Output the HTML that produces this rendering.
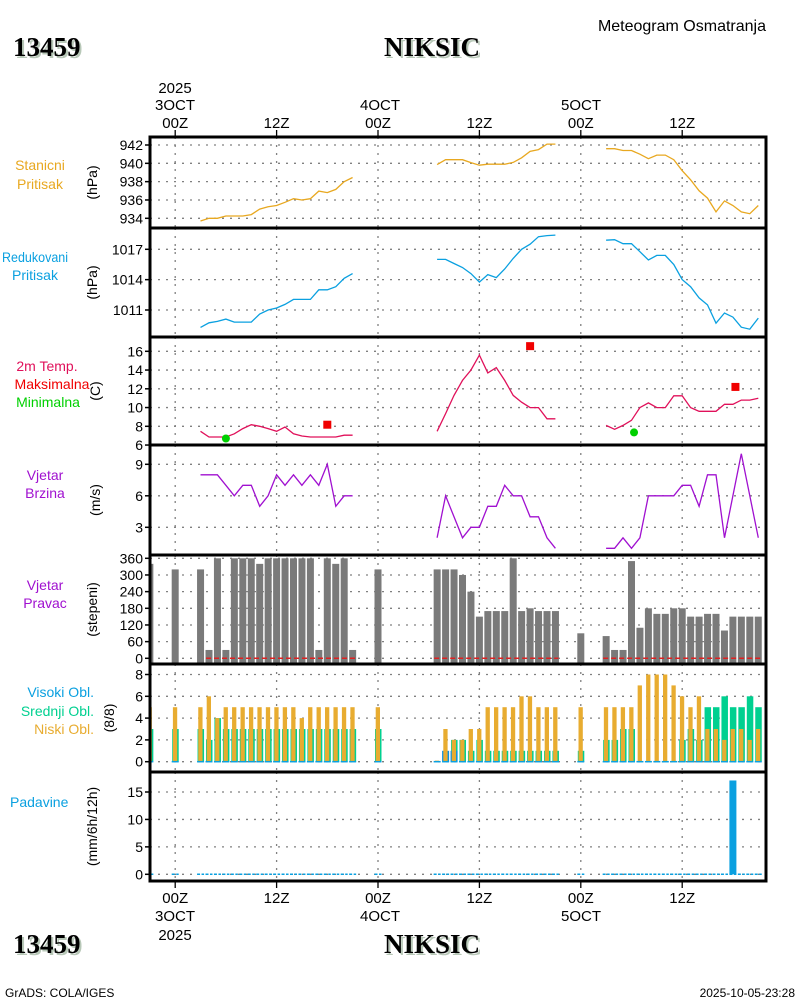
<!DOCTYPE html>
<html><head><meta charset="utf-8"><title>Meteogram NIKSIC</title>
<style>
html,body{margin:0;padding:0;background:#fff;}
svg{display:block;font-family:"Liberation Sans",sans-serif;}
</style></head>
<body>
<svg id="chart" width="800" height="1000" viewBox="0 0 800 1000" xmlns="http://www.w3.org/2000/svg">
<g id="static"></g>
<g id="marks"></g>
</svg>
<script>
// ---------- DATA ----------
const segA = [3,4,5,6,7,8,9,10,11,12,13,14,15,16,17,18,19,20,21];
const segB = [31,32,33,34,35,36,37,38,39,40,41,42,43,44,45];
const segC = [51,52,53,54,55,56,57,58,59,60,61,62,63,64,65,66,67,68,69];
const stationPressure = [
 [933.7,934.0,934.0,934.25,934.25,934.25,934.4,935.0,935.27,935.4,935.75,936.14,936.0,936.14,936.97,936.8,937.15,938.0,938.45],
 [939.86,940.4,940.4,940.4,940.08,939.8,939.9,939.9,939.9,940.1,940.6,941.3,941.5,942.1,942.1],
 [941.6,941.6,941.4,941.4,941.0,940.5,940.9,940.9,940.4,939.2,938.2,937.0,936.2,934.7,935.9,935.4,934.7,934.5,935.4]];
const reducedPressure = [
 [1009.28,1009.73,1009.87,1010.1,1009.8,1009.8,1009.8,1010.6,1011.0,1011.2,1011.55,1012.05,1012.05,1012.05,1013.0,1013.0,1013.3,1014.13,1014.6],
 [1016.0,1016.0,1015.6,1015.2,1014.6,1013.76,1014.5,1014.2,1015.05,1016.1,1017.0,1017.5,1018.25,1018.35,1018.4],
 [1017.9,1017.95,1017.55,1017.55,1016.76,1015.94,1016.4,1016.4,1015.5,1014.0,1013.3,1012.2,1011.5,1009.7,1010.7,1010.3,1009.3,1009.1,1010.2]];
const temperature = [
 [7.47,6.86,6.86,6.86,7.2,7.75,8.17,8.0,7.75,7.47,7.93,7.2,6.97,6.86,6.86,6.86,6.86,7.05,7.05],
 [7.47,9.35,11.3,12.9,14.0,15.6,13.7,14.26,12.9,11.3,10.57,10.0,10.0,8.8,8.8],
 [8.1,7.68,8.1,8.64,10.0,10.5,10.0,10.0,11.25,11.25,10.0,9.6,9.6,9.6,10.35,10.35,10.8,10.8,11.0]];
const windSpeed = [
 [8,8,8,7,6,7,7,5,6,8,7,8,7,8,7,9,5,6,6],
 [2,6,4,2,3,3,5,5,7,6,6,4,4,2,1],
 [1,1,2,1,2,6,6,6,6,7,7,5,8,8,2,6,10,6,2]];
const tmaxHours = [18,42,66.3];
const tmaxVals = [8.17,16.55,12.2];
const tminHours = [6,54.3];
const tminVals = [6.7,7.35];
const obsHours = [-3,0,3,4,5,6,7,8,9,10,11,12,13,14,15,16,17,18,19,20,21,24,31,32,33,34,35,36,37,38,39,40,41,42,43,44,45,48,51,52,53,54,55,56,57,58,59,60,61,62,63,64,65,66,67,68,69];
const windDir = [340,320,320,30,360,30,360,360,360,340,360,360,360,360,360,360,30,360,340,360,30,320,320,320,320,300,240,150,170,170,170,360,170,180,170,170,170,90,80,30,30,350,110,180,160,160,180,180,150,150,160,160,100,150,150,150,150];
const lowCloud = [5,5,5,6,4,5,5,5,5,5,5,5,5,5,4,5,5,5,5,5,5,5,0.1,3,2,2,3,3,5,5,5,5,6,6,5,5,5,5,5,5,5,5,7,8,8,8,7,6,5,6,3,3,2,3,3,2,3];
const midCloud = [3,3,3,2,4,3,3,3,3,3,3,3,3,3,3,3,3,3,3,3,3,3,0,0,2,2,1,2,1,1,1,1,1,1,1,1,1,1,2,2,3,3,0,0,0,0,0,2,3,2,5,5,6,5,5,6,5];
const highCloud = [0,0,0,0,0,0,0,0,0,0,0,0,0,0,0,0,0,0,0,0,0,0,0,1,1,0,0,0,0,0,0,0,0,0,0,0,0,0,0,0,0,0,0,0,0,0,0,0,0,0,0,0,0,0,0,0,0];
const precipHours = [66];
const precipVals = [17.1];
const timeTicks = [0,12,24,36,48,60];
const timeLabels = ["00Z","12Z","00Z","12Z","00Z","12Z"];

// ---------- helpers ----------
const NS="http://www.w3.org/2000/svg";
const st=document.getElementById('static'), mk=document.getElementById('marks');
function el(tag,attrs,parent,txt){const e=document.createElementNS(NS,tag);for(const k in attrs)e.setAttribute(k,attrs[k]);if(txt!==undefined)e.textContent=txt;parent.appendChild(e);return e;}
const L=150,R=766;
const xS=h=>175.2+h*8.45;
function lin(v0,y0,v1,y1){return v=>y0+(v-v0)*(y1-y0)/(v1-v0);}
const panels=[
 {top:137,bot:228,y:lin(934,218.3,942,145),ticks:[934,936,938,940,942],unit:"(hPa)",ux:97},
 {top:228,bot:337,y:lin(1011,310,1017,249.3),ticks:[1011,1014,1017],unit:"(hPa)",ux:97},
 {top:337,bot:445,y:lin(8,426.3,16,351.3),ticks:[6,8,10,12,14,16],unit:"(C)",ux:100},
 {top:445,bot:555,y:lin(3,527.3,9,464.3),ticks:[3,6,9],unit:"(m/s)",ux:100},
 {top:555,bot:664,y:lin(0,658.3,360,558.3),ticks:[0,60,120,180,240,300,360],unit:"(stepeni)",ux:97},
 {top:664,bot:772,y:lin(0,761.7,8,674.5),ticks:[0,2,4,6,8],unit:"(8/8)",ux:114},
 {top:772,bot:881,y:lin(0,874.3,15,792),ticks:[0,5,10,15],unit:"(mm/6h/12h)",ux:97}];
const names=["station-pressure","reduced-pressure","temperature","wind-speed","wind-direction","cloud-cover","precipitation"];

const defs=el('defs',{},st);
const cp=el('clipPath',{id:'pc'},defs);el('rect',{x:L,y:137,width:R-L,height:744},cp);

panels.forEach((p,i)=>{
  const g=el('g',{},st);
  
  
  p.ticks.forEach(t=>{
    const y=p.y(t);
    if(y>p.top+2&&y<p.bot-2){
      const gl=el('line',{x1:L,x2:R,y1:y,y2:y,stroke:'#808080','stroke-width':1.3,'stroke-dasharray':'2,6'},g);
      
    }
    el('line',{x1:L-5,x2:L,y1:y,y2:y,stroke:'#000','stroke-width':1.5},g);
    const tl=el('text',{x:L-7,y:y+5,'text-anchor':'end','font-size':14},g,String(t));
    
  });
  timeTicks.forEach(h=>{
    const vl=el('line',{x1:xS(h),x2:xS(h),y1:p.top,y2:p.bot,stroke:'#808080','stroke-width':1.3,'stroke-dasharray':'2,6'},g);
    
  });
  const cy=(p.top+p.bot)/2;
  const u=el('text',{x:0,y:0,'text-anchor':'middle','font-size':14,transform:`translate(${p.ux},${cy}) rotate(-90)`},g,p.unit);
  
});

function line(segsVals,yf,color,name){
  [segA,segB,segC].forEach((hs,k)=>{
    const pts=hs.map((h,j)=>xS(h).toFixed(1)+','+yf(segsVals[k][j]).toFixed(1)).join(' ');
    const pl=el('polyline',{points:pts,fill:'none',stroke:color,'stroke-width':1.3},mk);
    
  });
}
line(stationPressure,panels[0].y,'#e8a820','station-pressure-line');
line(reducedPressure,panels[1].y,'#0aa0e0','reduced-pressure-line');
line(temperature,panels[2].y,'#e0105a','temperature-line');
line(windSpeed,panels[3].y,'#a010d0','wind-speed-line');
tmaxHours.forEach((h,i)=>{
  const r=el('rect',{x:xS(h)-4,y:panels[2].y(tmaxVals[i])-4,width:8,height:8,fill:'#f00000'},mk);
  
});
tminHours.forEach((h,i)=>{
  const c=el('circle',{cx:xS(h),cy:panels[2].y(tminVals[i]),r:4,fill:'#00d000'},mk);
  
});
const bars=el('g',{'clip-path':'url(#pc)'},mk);
const p5=panels[4];
obsHours.forEach((h,i)=>{
  const y=p5.y(windDir[i]);
  const b=el('rect',{x:xS(h)-3.5,y:y,width:7,height:p5.bot-y,fill:'#7a7a7a'},bars);
  
});
[[4,21],[31,45],[51,69]].forEach(s=>{
  const d=el('line',{x1:xS(s[0])-3,x2:xS(s[1])+3,y1:p5.y(0),y2:p5.y(0),stroke:'#e02020','stroke-width':1.5,'stroke-dasharray':'5,3'},mk);
  
});
const p6=panels[5];
obsHours.forEach((h,i)=>{
  const c=xS(h),b0=p6.y(0);
  if(midCloud[i]>0){const y=p6.y(midCloud[i]);const r=el('rect',{x:c-3,y:y,width:6.5,height:b0-y,fill:'#00d090'},bars);
    }
  if(highCloud[i]>0){const y=p6.y(highCloud[i]);const r=el('rect',{x:c-3.5,y:y,width:7,height:b0-y,fill:'#0a90e0'},bars);
    }
  if(lowCloud[i]>0){const y=p6.y(lowCloud[i]);const r=el('rect',{x:c-2.3,y:y,width:4.3,height:b0-y,fill:'#e8ac30'},bars);
    }
  const z=el('line',{x1:c-3.5,x2:c+3.5,y1:b0,y2:b0,stroke:'#0aa0e0','stroke-width':1.5},bars);
  
});
const p7=panels[6];
obsHours.forEach(h=>{
  const z=el('line',{x1:xS(h)-3.5,x2:xS(h)+3.5,y1:p7.y(0),y2:p7.y(0),stroke:'#0aa0e0','stroke-width':1.5,'stroke-dasharray':'3,1.5'},bars);
  
});
precipHours.forEach((h,i)=>{
  const y=p7.y(precipVals[i]);
  const r=el('rect',{x:xS(h)-3.5,y:y,width:7,height:p7.y(0)-y,fill:'#0aa0e0'},mk);
  
});
panels.forEach(p=>{
  const f=el('rect',{x:L,y:p.top,width:R-L,height:p.bot-p.top,fill:'none',stroke:'#000','stroke-width':3},mk);
  
});
timeTicks.forEach((h,i)=>{
  const x=xS(h);
  el('line',{x1:x,x2:x,y1:130,y2:137,stroke:'#000','stroke-width':1.3},st);
  el('line',{x1:x,x2:x,y1:881,y2:888,stroke:'#000','stroke-width':1.3},st);
  const t=el('text',{x:x,y:128,'text-anchor':'middle','font-size':15},st,timeLabels[i]);
  
  const b=el('text',{x:x,y:903,'text-anchor':'middle','font-size':15},st,timeLabels[i]);
  
});
</script>
<script>
const s2=document.getElementById('chart');
function T(x,y,txt,size,color,anchor,name,extra){
  const e=document.createElementNS("http://www.w3.org/2000/svg",'text');
  e.setAttribute('x',x);e.setAttribute('y',y);e.setAttribute('font-size',size);e.setAttribute('fill',color);
  e.setAttribute('text-anchor',anchor);
  if(extra)for(const k in extra)e.setAttribute(k,extra[k]);
  e.textContent=txt;
  
  
  s2.appendChild(e);return e;
}
T(175,93,"2025",15,'#000','middle','top-year-label');
T(175,110,"3OCT",15,'#000','middle','top-date-label');
T(380,110,"4OCT",15,'#000','middle','top-date-label');
T(581,110,"5OCT",15,'#000','middle','top-date-label');
T(175,921,"3OCT",15,'#000','middle','bottom-date-label');
T(175,940,"2025",15,'#000','middle','bottom-year-label');
T(380,921,"4OCT",15,'#000','middle','bottom-date-label');
T(581,921,"5OCT",15,'#000','middle','bottom-date-label');
const serif={'font-family':'"Liberation Serif",serif','font-weight':'bold'};
T(15,58,"13459",27,'#b8c8b8','start','station-id-shadow',serif);
T(13,56,"13459",27,'#000','start','station-id',serif);
T(434,58,"NIKSIC",27,'#b8c8b8','middle','station-name-shadow',serif);
T(432,56,"NIKSIC",27,'#000','middle','station-name',serif);
T(15,955,"13459",27,'#b8c8b8','start','station-id-bottom-shadow',serif);
T(13,953,"13459",27,'#000','start','station-id-bottom',serif);
T(434,955,"NIKSIC",27,'#b8c8b8','middle','station-name-bottom-shadow',serif);
T(432,953,"NIKSIC",27,'#000','middle','station-name-bottom',serif);
T(766,31,"Meteogram Osmatranja",16,'#000','end','chart-title');
T(5,997,"GrADS: COLA/IGES",12,'#000','start','footer-credit');
T(795,997,"2025-10-05-23:28",12,'#000','end','footer-timestamp');
T(40,170,"Stanicni",14,'#e8a820','middle','label-stanicni');
T(40,189,"Pritisak",14,'#e8a820','middle','label-stanicni-pritisak');
T(35,262,"Redukovani",14,'#0aa0e0','middle','label-redukovani',{textLength:66,lengthAdjust:'spacingAndGlyphs'});
T(35,280,"Pritisak",14,'#0aa0e0','middle','label-redukovani-pritisak');
T(47,371,"2m Temp.",14,'#e0105a','middle','label-2m-temp');
T(52,389,"Maksimalna",14,'#f00000','middle','label-maksimalna',{textLength:75,lengthAdjust:'spacingAndGlyphs'});
T(48,407,"Minimalna",14,'#00d000','middle','label-minimalna');
T(45,480,"Vjetar",14,'#a010d0','middle','label-vjetar');
T(45,498,"Brzina",14,'#a010d0','middle','label-brzina');
T(45,590,"Vjetar",14,'#a010d0','middle','label-vjetar-2');
T(45,608,"Pravac",14,'#a010d0','middle','label-pravac');
T(94,697,"Visoki Obl.",14,'#0aa0e0','end','label-visoki');
T(94,716,"Srednji Obl.",14,'#00d090','end','label-srednji');
T(94,734,"Niski Obl.",14,'#e8ac30','end','label-niski');
T(10,807,"Padavine",14,'#0aa0e0','start','label-padavine');
</script>
</body></html>
